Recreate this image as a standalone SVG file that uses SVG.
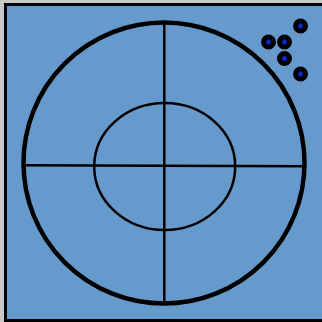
<svg xmlns="http://www.w3.org/2000/svg" width="322" height="322" viewBox="0 0 322 322">
<style>
.ln{stroke:#000;fill:none}
.dot{fill:#0a2ad0;stroke:#000;stroke-width:5}
</style>
<rect x="0" y="0" width="322" height="322" fill="#c8c8c8"/>
<g id="frame"><rect x="5.5" y="4.5" width="330" height="316" fill="#6699cc" stroke="#000" stroke-width="3"/></g>
<g id="outer"><circle cx="164" cy="163" r="140.5" class="ln" stroke-width="4.5"/></g>
<g id="inner"><ellipse cx="164.7" cy="166.5" rx="70.5" ry="63.5" class="ln" stroke-width="2.5"/></g>
<g id="connectors">
<line x1="164.3" y1="22" x2="164.3" y2="304" class="ln" stroke-width="2.5"/>
<line x1="23" y1="165.2" x2="305" y2="166.2" class="ln" stroke-width="2.5"/>
</g>
<g id="dots">
<circle cx="300.5" cy="26" r="5" class="dot"/>
<circle cx="268.5" cy="42" r="5" class="dot"/>
<circle cx="284.5" cy="42" r="5" class="dot"/>
<circle cx="284.5" cy="58.5" r="5" class="dot"/>
<circle cx="300.5" cy="74" r="5" class="dot"/>
</g>
</svg>
